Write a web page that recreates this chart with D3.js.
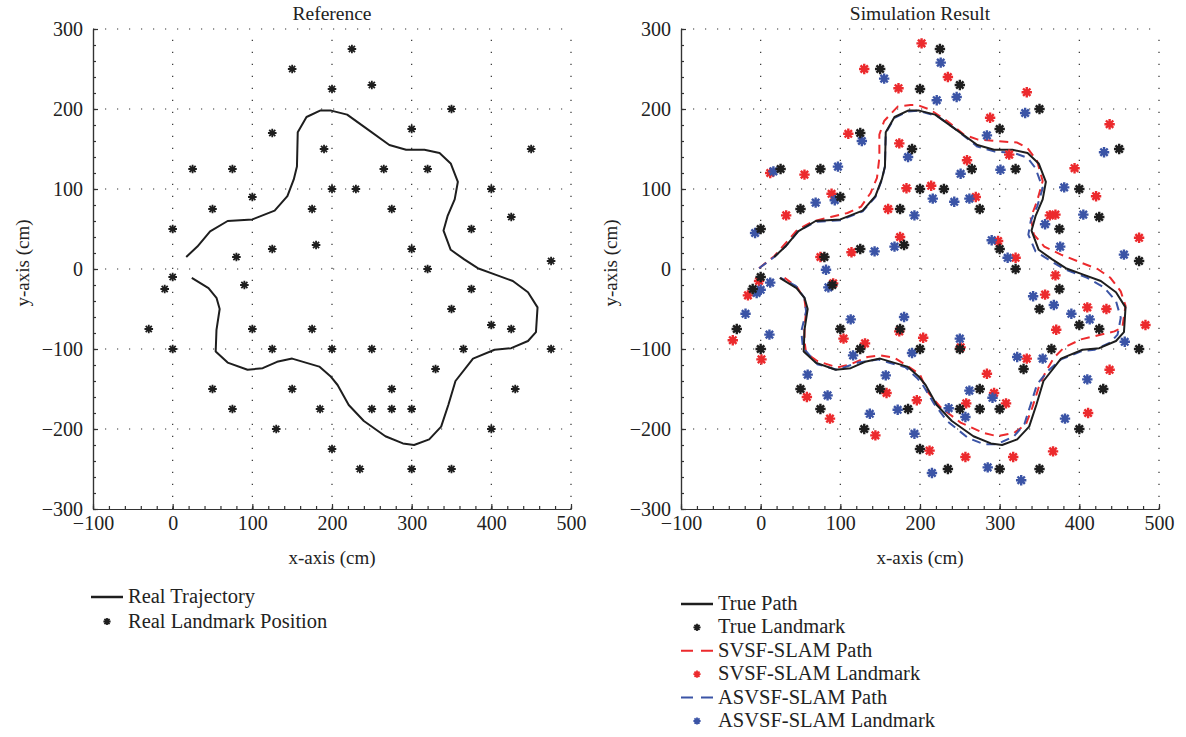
<!DOCTYPE html>
<html>
<head>
<meta charset="utf-8">
<script src="https://cdn.jsdelivr.net/npm/d3@7"></script>
<style>
  body { margin: 0; background: #fff; }
  text { font-family: "Liberation Serif", "DejaVu Serif", serif; fill: #222; }
  .grid line { stroke: #333; stroke-width: 1.2; stroke-dasharray: 1.2,10.8; }
  .axis path, .axis line { stroke: #333; stroke-width: 1.2; }
</style>
</head>
<body>
<svg id="chart" width="1186" height="737"></svg>
<script>
// true robot path (cm)
var truePath = [[17,15],[31,28],[47,47],[69,60],[100,62],[128,73],[144,91],[152,112],[156,128],[157,171],[168,190],[185,198],[199,198],[219,193],[240,178],[272,155],[293,149],[316,149],[335,145],[349,132],[358,109],[354,87],[345,66],[340,48],[349,24],[366,12],[383,1],[405,-7],[427,-15],[446,-29],[458,-48],[456,-79],[446,-90],[425,-99],[404,-101],[377,-112],[355,-140],[346,-170],[337,-197],[322,-213],[303,-220],[289,-218],[267,-209],[240,-190],[221,-170],[207,-145],[198,-134],[184,-122],[150,-112],[131,-116],[113,-124],[94,-126],[69,-117],[54,-103],[55,-76],[59,-50],[55,-36],[45,-24],[24,-11]];

var svsfPath = [[-2,1],[17,16],[46,49],[67,60],[88,65],[109,70],[126,78],[138,95],[146,114],[149,139],[149,168],[155,185],[172,203],[188,205],[197,205],[213,199],[234,185],[255,168],[272,162],[297,160],[322,158],[335,151],[347,135],[354,110],[347,85],[339,64],[343,43],[356,28],[377,18],[402,8],[423,0],[439,-11],[452,-28],[458,-46],[454,-73],[444,-78],[419,-84],[402,-88],[381,-98],[368,-111],[358,-128],[349,-148],[341,-173],[333,-194],[318,-205],[297,-209],[280,-205],[251,-192],[226,-173],[209,-153],[200,-132],[184,-121],[168,-111],[151,-108],[134,-110],[113,-119],[96,-123],[71,-115],[57,-105],[55,-90],[55,-73],[57,-53],[55,-38],[46,-23],[30,-11]];

var asvsfPath = [[-2,1],[17,15],[31,28],[47,47],[69,59],[100,61],[128,72],[144,90],[152,111],[156,128],[157,170],[168,189],[185,197],[197,198],[222,191],[243,176],[272,153],[293,147],[318,145],[335,139],[345,126],[354,101],[347,78],[339,60],[336,43],[345,22],[364,10],[381,0],[410,-11],[431,-23],[446,-40],[452,-61],[448,-82],[439,-92],[419,-101],[402,-103],[377,-113],[360,-128],[347,-144],[339,-169],[331,-194],[318,-209],[297,-219],[280,-219],[260,-211],[234,-190],[218,-169],[203,-144],[197,-137],[182,-123],[147,-113],[122,-117],[96,-126],[71,-119],[53,-98],[51,-78],[57,-53],[55,-36],[44,-21],[25,-11]];

// landmarks (cm)
var trueLandmarks = [[150,250],[225,275],[200,225],[250,230],[350,200],[300,175],[125,170],[190,150],[25,125],[75,125],[265,125],[320,125],[200,100],[230,100],[400,100],[450,150],[100,90],[50,75],[175,75],[275,75],[425,65],[0,50],[375,50],[125,25],[180,30],[300,25],[475,10],[80,15],[320,0],[0,-10],[-10,-25],[90,-20],[375,-25],[-30,-75],[350,-50],[100,-75],[175,-75],[400,-70],[425,-75],[0,-100],[125,-100],[200,-100],[250,-100],[365,-100],[475,-100],[330,-125],[50,-150],[150,-150],[275,-150],[430,-150],[75,-175],[185,-175],[250,-175],[275,-175],[300,-175],[130,-200],[400,-200],[200,-225],[235,-250],[300,-250],[350,-250]];

var svsfLandmarks = [[130,250],[173,226],[202,282],[110,169],[174,157],[12,120],[55,118],[89,94],[183,101],[32,67],[160,75],[175,40],[75,15],[114,21],[235,240],[334,221],[288,189],[438,181],[259,136],[312,143],[394,126],[214,104],[270,90],[421,91],[363,67],[370,68],[298,35],[320,14],[475,39],[-2,-15],[-16,-33],[91,-18],[-35,-89],[1,-113],[104,-87],[131,-93],[174,-78],[58,-160],[87,-187],[158,-155],[144,-208],[196,-164],[370,-8],[357,-32],[410,-48],[434,-50],[483,-70],[371,-76],[204,-86],[251,-98],[334,-112],[284,-131],[438,-126],[293,-155],[258,-168],[308,-168],[411,-180],[212,-227],[257,-235],[317,-235],[367,-228]];

var asvsfLandmarks = [[155,238],[127,160],[185,140],[16,122],[97,128],[69,83],[93,86],[193,67],[-7,45],[143,22],[168,28],[82,-1],[226,258],[221,211],[246,215],[332,195],[284,167],[431,146],[251,119],[301,124],[381,102],[216,88],[243,84],[262,88],[405,68],[357,56],[376,28],[290,36],[310,14],[456,18],[12,-17],[0,-26],[-5,-30],[85,-23],[-19,-56],[11,-82],[113,-63],[180,-60],[116,-108],[190,-105],[59,-132],[157,-133],[84,-158],[137,-181],[172,-176],[193,-206],[342,-34],[368,-45],[390,-56],[413,-63],[250,-87],[322,-110],[354,-112],[457,-91],[262,-152],[291,-161],[236,-174],[257,-185],[410,-138],[382,-187],[215,-255],[285,-248],[327,-264]];

var xTicks = [-100, 0, 100, 200, 300, 400, 500];
var yTicks = [-300, -200, -100, 0, 100, 200, 300];

var RED = "#ec2a2d", BLUE = "#3b54a6", BLACK = "#1e1e1e";

var svg = d3.select("#chart");
svg.append("rect").attr("width", 1186).attr("height", 737).attr("fill", "#fff");

function star(r) {
  var d = r * 0.7071;
  return "M" + (-r) + ",0L" + r + ",0M0," + (-r) + "L0," + r +
         "M" + (-d) + "," + (-d) + "L" + d + "," + d +
         "M" + (-d) + "," + d + "L" + d + "," + (-d);
}

function panel(left, title) {
  var x = d3.scaleLinear().domain([-100, 500]).range([left, left + 478]);
  var y = d3.scaleLinear().domain([-300, 300]).range([509, 29]);
  var g = svg.append("g");

  var grid = g.append("g").attr("class", "grid");
  grid.selectAll(".gx").data(xTicks.slice(1)).enter().append("line")
    .attr("x1", d => x(d)).attr("x2", d => x(d)).attr("y1", y(-300)).attr("y2", y(300));
  grid.selectAll(".gy").data(yTicks.slice(1)).enter().append("line")
    .attr("y1", d => y(d)).attr("y2", d => y(d)).attr("x1", x(-100)).attr("x2", x(500));

  var minorX = d3.range(-100, 501, 20), minorY = d3.range(-300, 301, 20);
  g.append("g").attr("class", "axis").attr("transform", "translate(0," + y(-300) + ")")
    .call(d3.axisBottom(x).tickValues(minorX).tickSizeInner(-3).tickSizeOuter(0).tickFormat(""));
  g.append("g").attr("class", "axis").attr("transform", "translate(" + x(-100) + ",0)")
    .call(d3.axisLeft(y).tickValues(minorY).tickSizeInner(-3).tickSizeOuter(0).tickFormat(""));

  var ax = g.append("g").attr("class", "axis").attr("transform", "translate(0," + y(-300) + ")")
    .call(d3.axisBottom(x).tickValues(xTicks).tickSizeInner(-5).tickSizeOuter(0).tickPadding(7));
  var ay = g.append("g").attr("class", "axis").attr("transform", "translate(" + x(-100) + ",0)")
    .call(d3.axisLeft(y).tickValues(yTicks).tickSizeInner(-5).tickSizeOuter(0).tickPadding(10));
  [ax, ay].forEach(function(a) {
    a.selectAll("text").style("font-size", "20px").attr("fill", "#222");
    a.attr("font-family", null);
  });

  g.append("text").attr("x", (x(-100) + x(500)) / 2).attr("y", 20)
    .attr("text-anchor", "middle").style("font-size", "19.5px").text(title);
  g.append("text").attr("x", (x(-100) + x(500)) / 2).attr("y", 564)
    .attr("text-anchor", "middle").style("font-size", "19px").text("x-axis (cm)");
  g.append("text").attr("transform", "translate(" + (left - 64) + "," + (y(0) - 6) + ") rotate(-90)")
    .attr("text-anchor", "middle").style("font-size", "19px").text("y-axis (cm)");

  return {g: g, x: x, y: y};
}

function drawPath(p, data, color, width, dash) {
  var line = d3.line().x(d => p.x(d[0])).y(d => p.y(d[1]));
  p.g.append("path").datum(data).attr("d", line).attr("fill", "none")
    .attr("stroke", color).attr("stroke-width", width)
    .attr("stroke-dasharray", dash || null).attr("stroke-linejoin", "round");
}

function drawStars(p, data, color, r, w) {
  p.g.append("g").selectAll("path").data(data).enter().append("path")
    .attr("transform", d => "translate(" + p.x(d[0]) + "," + p.y(d[1]) + ")")
    .attr("d", star(r)).attr("stroke", color).attr("stroke-width", w).attr("fill", "none");
}

// left panel
var pL = panel(93, "Reference");
drawPath(pL, truePath, BLACK, 2);
drawStars(pL, trueLandmarks, BLACK, 4.3, 1.8);

// right panel
var pR = panel(681, "Simulation Result");
drawPath(pR, svsfPath, RED, 2, "9,6");
drawPath(pR, asvsfPath, BLUE, 2, "9,6");
drawPath(pR, truePath, BLACK, 2);
drawStars(pR, svsfLandmarks, RED, 5.2, 2.4);
drawStars(pR, asvsfLandmarks, BLUE, 5.2, 2.4);
drawStars(pR, trueLandmarks, BLACK, 5.2, 2.4);

// legends
function legend(x0, y0, step, items) {
  var lg = svg.append("g");
  items.forEach(function(it, i) {
    var cy = y0 + i * step;
    if (it.type === "line") {
      lg.append("line").attr("x1", x0).attr("x2", x0 + 32).attr("y1", cy).attr("y2", cy)
        .attr("stroke", it.color).attr("stroke-width", it.dash ? 2 : 2.5)
        .attr("stroke-dasharray", it.dash ? "12,8" : null);
    } else {
      lg.append("path").attr("transform", "translate(" + (x0 + 16) + "," + cy + ")")
        .attr("d", star(3.6)).attr("stroke", it.color).attr("stroke-width", 1.8).attr("fill", "none");
    }
    lg.append("text").attr("x", x0 + 37).attr("y", cy + 6).style("font-size", "20.5px").text(it.label);
  });
}

legend(91, 597, 24.5, [
  {type: "line", color: BLACK, label: "Real Trajectory"},
  {type: "star", color: BLACK, label: "Real Landmark Position"}
]);
legend(681, 604, 23.4, [
  {type: "line", color: BLACK, label: "True Path"},
  {type: "star", color: BLACK, label: "True Landmark"},
  {type: "line", color: RED, dash: true, label: "SVSF-SLAM Path"},
  {type: "star", color: RED, label: "SVSF-SLAM Landmark"},
  {type: "line", color: BLUE, dash: true, label: "ASVSF-SLAM Path"},
  {type: "star", color: BLUE, label: "ASVSF-SLAM Landmark"}
]);
</script>
</body>
</html>
